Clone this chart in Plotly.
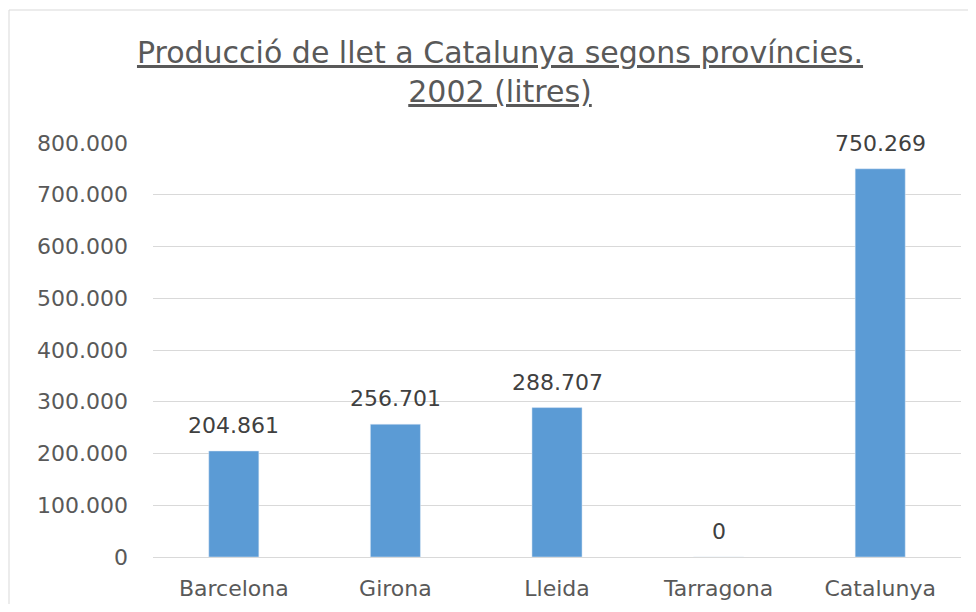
import plotly.graph_objects as go

categories = ["Barcelona", "Girona", "Lleida", "Tarragona", "Catalunya"]
values = [204861, 256701, 288707, 0, 750269]
y_ticks = [0, 100000, 200000, 300000, 400000, 500000, 600000, 700000, 800000]
title_text = "<u>Producció de llet a Catalunya segons províncies.</u><br><u>2002 (litres)</u>"

# page is rendered with an 8px body margin
OFF = 8
W, H = 976 - 2 * OFF, 612 - 2 * OFF
ml = 153 - OFF
mr = W - (961 - OFF)
mt = 143 - OFF
mb = H - (557 - OFF)
pw, ph = W - ml - mr, H - mt - mb

FONT = "DejaVu Sans"
TXT = "#595959"


def fmt(v):
    return f"{v:,}".replace(",", ".")


fig = go.Figure(
    go.Bar(
        x=categories,
        y=values,
        marker=dict(color="#5B9BD5"),
        hoverinfo="x+y",
    )
)

for c, v in zip(categories, values):
    fig.add_annotation(
        x=c, y=v, xref="x", yref="y",
        text=fmt(v),
        showarrow=False,
        yanchor="bottom",
        yshift=11,
        font=dict(family=FONT, size=22, color="#404040"),
    )

fig.update_layout(
    width=W,
    height=H,
    margin=dict(l=ml, r=mr, t=mt, b=mb, autoexpand=False),
    paper_bgcolor="white",
    plot_bgcolor="white",
    separators=",.",
    bargap=0.69,
    showlegend=False,
    title=dict(
        text=title_text,
        x=(500 - OFF) / W,
        xanchor="center",
        y=1 - (63 - OFF) / H,
        yanchor="middle",
        font=dict(family=FONT, size=30, color=TXT),
    ),
    font=dict(family=FONT, color=TXT),
)

fig.update_yaxes(
    range=[0, 800000],
    tickvals=y_ticks,
    ticktext=[fmt(v) for v in y_ticks],
    showgrid=True,
    gridcolor="#D9D9D9",
    gridwidth=1,
    zeroline=False,
    showline=False,
    ticks="",
    automargin=False,
    ticklabelstandoff=24,
    tickfont=dict(family=FONT, size=22, color=TXT),
)
fig.update_xaxes(
    showline=True,
    linecolor="#D9D9D9",
    linewidth=1,
    ticks="",
    automargin=False,
    ticklabelstandoff=12,
    tickfont=dict(family=FONT, size=22, color=TXT),
)

# chart-area border
fig.add_shape(
    type="rect",
    xref="paper", yref="paper",
    x0=(1 - ml) / pw, x1=(W + 20 - ml) / pw,
    y0=-(mb + 20) / ph, y1=(H - 2 - mb) / ph,
    line=dict(color="#D9D9D9", width=1),
    layer="below",
)

fig.write_html("out.html")
